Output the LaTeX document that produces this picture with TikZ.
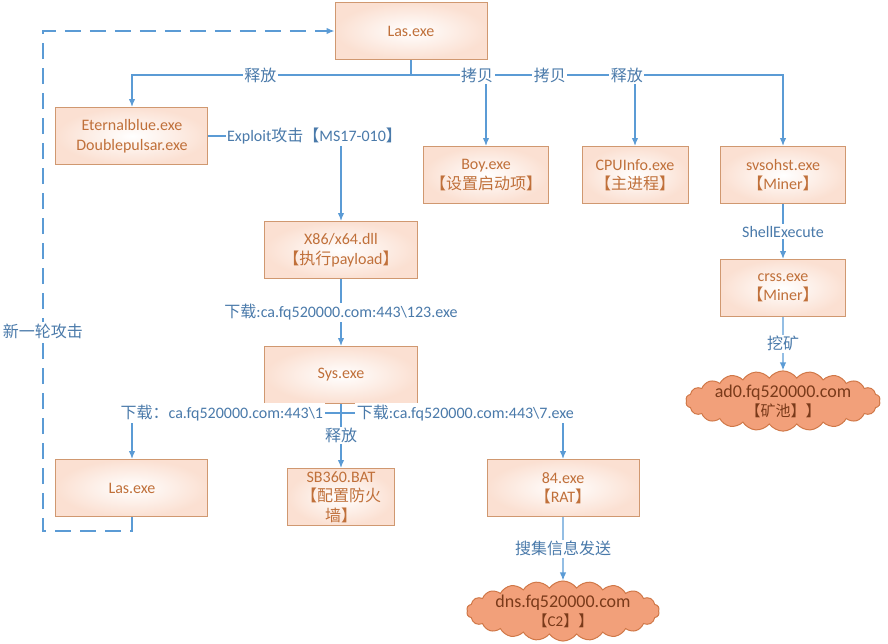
\documentclass[tikz,border=0pt]{standalone}
\usepackage{fontspec}
\setmainfont{Carlito}
\newfontfamily\zhfont{Noto Sans CJK SC}
\newcommand{\han}[1]{{\zhfont #1}}
\usetikzlibrary{shapes.symbols, arrows.meta, positioning}
\definecolor{edgeblue}{HTML}{5B9BD5}
\definecolor{lblblue}{HTML}{4A7AAA}
\definecolor{boxline}{HTML}{D09870}
\definecolor{boxtext}{HTML}{C0703A}
\definecolor{boxtint}{HTML}{FBE0D2}
\definecolor{cloudfill}{HTML}{F2A07A}
\definecolor{cloudline}{HTML}{D07848}
\definecolor{cloudtext}{HTML}{7A3A1A}
\tikzstyle{exe} = [rectangle, minimum width=152pt, minimum height=57pt, text centered, align=center, draw=boxline, line width=1pt, inner color=white, outer color=boxtint, text=boxtext, font=\fontsize{16}{19.5}\selectfont]
\tikzstyle{server} = [cloud, cloud puffs=22, cloud puff arc=110, cloud ignores aspect, minimum width=190pt, minimum height=56pt, inner sep=0pt, draw=cloudline, line width=1pt, fill=cloudfill, text=cloudtext, align=center, font=\fontsize{18}{21}\selectfont]
\tikzstyle{edge} = [edgeblue, line width=1.3pt]
\tikzstyle{arrow} = [edge, -{Latex[length=8pt,width=6.5pt]}]
\tikzstyle{loopback} = [arrow, dash pattern=on 16pt off 9pt]
\tikzstyle{tag} = [fill=white, text=lblblue, inner sep=1.5pt, font=\fontsize{16}{18}\selectfont]
\newcommand{\poolsize}{\fontsize{15}{17}\selectfont}

\begin{document}
\begin{tikzpicture}[node distance=125pt]
	\useasboundingbox (-411pt,31pt) rectangle (477pt,-612pt);

	\node (Las) [exe] {Las.exe};
	\node (Eternal) [exe, below of=Las, xshift=-279pt, yshift=20pt] {Eternalblue.exe\\Doublepulsar.exe};
	\node (Boy) [exe, minimum width=125pt, below of=Las, xshift=75pt, yshift=-19pt] {Boy.exe\\\han{【设置启动项】}};
	\node (CPU) [exe, minimum width=106pt, right of=Boy, xshift=24pt] {CPUInfo.exe\\\han{【主进程】}};
	\node (Svs) [exe, minimum width=125pt, right of=CPU, xshift=23pt] {svsohst.exe\\\han{【}Miner\han{】}};
	\node (Crss) [exe, minimum width=125pt, below of=Svs, yshift=12pt] {crss.exe\\\han{【}Miner\han{】}};
	\node (Pool) [server, below of=Crss, yshift=12pt] {ad0.fq520000.com\\[-2pt]{\poolsize\han{【矿池】】}}};
	\node (Dll) [exe, below of=Eternal, xshift=209pt, yshift=11pt] {X86/x64.dll\\\han{【执行}payload\han{】}};
	\node (Sys) [exe, below of=Dll] {Sys.exe};
	\node (LasNew) [exe, below of=Sys, xshift=-209pt, yshift=12pt] {Las.exe};
	\node (Bat) [exe, minimum width=106pt, inner ysep=0pt, below of=Sys, yshift=3pt] {SB360.BAT\\\han{【配置防火}\\\han{墙】}};
	\node (Rat) [exe, below of=Sys, xshift=222pt, yshift=12pt] {84.exe\\\han{【}RAT\han{】}};
	\node (C2) [server, below of=Rat, yshift=2pt] {dns.fq520000.com\\[-2pt]{\poolsize\han{【}C2\han{】】}}};
	\coordinate [below of=Las, node distance=44pt] (fan);
	\coordinate [below of=Sys, node distance=38pt] (fan2);

	% Las.exe drops its files
	\draw [edge] (Las) -- (fan);
	\draw [arrow] (fan) -| (Eternal);
	\draw [arrow] (fan) -| (Boy);
	\draw [arrow] (fan) -| (CPU);
	\draw [arrow] (fan) -| (Svs);
	\path (fan) -| node[tag, pos=.27] {\han{释放}} (Eternal);
	\path (fan) -| node[tag, pos=.44] {\han{拷贝}} (Boy);
	\path (fan) -| node[tag, pos=.31] {\han{拷贝}} (CPU);
	\path (fan) -| node[tag, pos=.29] {\han{释放}} (Svs);

	\draw [arrow] (Eternal) -| node[tag, pos=.4] {Exploit\han{攻击【}MS17-010\han{】}} (Dll);
	\draw [arrow] (Dll) -- node[tag] {\han{下载}:ca.fq520000.com:443\textbackslash 123.exe} (Sys);
	\draw [edge] (Sys) -- (fan2);
	\draw [arrow] (fan2) -| node[tag, pos=.285] {\han{下载：}ca.fq520000.com:443\textbackslash 1} (LasNew);
	\draw [arrow] (fan2) -| node[tag, pos=.28] {\han{下载}:ca.fq520000.com:443\textbackslash 7.exe} (Rat);
	\draw [arrow] (fan2) -- node[tag, pos=.41] {\han{释放}} (Bat);

	\draw [arrow] (Svs) -- node[tag] {ShellExecute} (Crss);
	\draw [arrow] (Crss) -- node[tag] {\han{挖矿}} (Pool);
	\draw [arrow] (Rat) -- node[tag] {\han{搜集信息发送}} (C2);

	% new round
	\draw [loopback] (LasNew) -- ++(0,-43pt) -- ++(-89pt,0) |- node[tag, pos=.2] {\han{新一轮攻击}} (Las);
\end{tikzpicture}
\end{document}
